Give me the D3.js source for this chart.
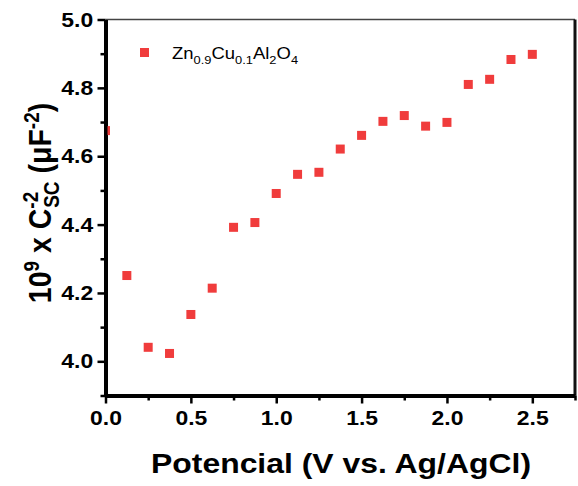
<!DOCTYPE html>
<html>
<head>
<meta charset="utf-8">
<script src="https://cdn.jsdelivr.net/npm/d3@7"></script>
<style>
  html, body { margin: 0; padding: 0; background: #fff; }
  svg { display: block; }
</style>
</head>
<body>
<svg id="chart" width="578" height="486"></svg>
<script>
// Potential (V vs. Ag/AgCl) and Mott–Schottky values (10^9 x Csc^-2)
const potential = [0, 0.125, 0.25, 0.375, 0.5, 0.625, 0.75, 0.875, 1.0, 1.125, 1.25,
                   1.375, 1.5, 1.625, 1.75, 1.875, 2.0, 2.125, 2.25, 2.375, 2.5];
const cscValues = [4.675, 4.251, 4.041, 4.023, 4.137, 4.214, 4.392, 4.406, 4.491, 4.547, 4.553,
                   4.621, 4.661, 4.702, 4.719, 4.688, 4.699, 4.810, 4.825, 4.883, 4.898];
const xTicks = [0, 0.5, 1.0, 1.5, 2.0, 2.5];
const xMinorTicks = [0.25, 0.75, 1.25, 1.75, 2.25, 2.75];
const yTicks = [4.0, 4.2, 4.4, 4.6, 4.8, 5.0];
const yMinorTicks = [3.9, 4.1, 4.3, 4.5, 4.7, 4.9];

const svg = d3.select("#chart");
const plotL = 105.5, plotR = 575, plotT = 19.5, plotB = 395.5;
const x = d3.scaleLinear().domain([0, 2.75]).range([plotL, plotR]);
const y = d3.scaleLinear().domain([3.9, 5.0]).range([plotB, plotT]);
const labelFont = "'Liberation Sans', Arial, sans-serif";
const markerColor = "#f03c3c";
const stretch = 1.12; // glyphs are slightly wide

// frame: top and right edges
svg.append("line").attr("x1", plotL).attr("x2", plotR).attr("y1", plotT).attr("y2", plotT)
  .attr("stroke", "#444").attr("stroke-width", 1.5);
svg.append("line").attr("x1", plotR).attr("x2", plotR).attr("y1", plotT).attr("y2", plotB)
  .attr("stroke", "#111").attr("stroke-width", 3);

// minor ticks
const xMinorG = svg.append("g").attr("transform", `translate(0,${plotB})`);
xMinorG.call(d3.axisBottom(x).tickValues(xMinorTicks).tickSize(5).tickFormat(() => ""));
xMinorG.select(".domain").remove();
xMinorG.selectAll(".tick line").attr("stroke-width", 2.5);
const yMinorG = svg.append("g").attr("transform", `translate(${plotL},0)`);
yMinorG.call(d3.axisLeft(y).tickValues(yMinorTicks).tickSize(5).tickFormat(() => ""));
yMinorG.select(".domain").remove();
yMinorG.selectAll(".tick line").attr("stroke-width", 2.5);

// major axes
function styleAxis(g) {
  g.select(".domain").attr("stroke-width", 4);
  g.selectAll(".tick line").attr("stroke-width", 2.5);
  g.selectAll(".tick text")
    .attr("font-family", labelFont).attr("font-weight", "bold").attr("font-size", 20.5)
    .attr("transform", `scale(${stretch},1)`);
}
const xG = svg.append("g").attr("transform", `translate(0,${plotB})`);
xG.call(d3.axisBottom(x).tickValues(xTicks).tickSize(8).tickSizeOuter(0).tickPadding(7)
  .tickFormat(d3.format(".1f")));
styleAxis(xG);
const yG = svg.append("g").attr("transform", `translate(${plotL},0)`);
yG.call(d3.axisLeft(y).tickValues(yTicks).tickSize(8).tickSizeOuter(0).tickPadding(3)
  .tickFormat(d3.format(".1f")));
styleAxis(yG);

// markers (the x = 0 marker is cut by the left frame)
const left = v => Math.max(plotL + 2, x(v) - 4.5);
svg.append("g")
  .selectAll("rect").data(potential.map((p, i) => [p, cscValues[i]])).join("rect")
  .attr("x", d => left(d[0]))
  .attr("y", d => y(d[1]) - 4.5)
  .attr("width", d => x(d[0]) + 4.5 - left(d[0]))
  .attr("height", 9).attr("fill", markerColor);

// x axis title
svg.append("text").attr("transform", `translate(341,473) scale(${stretch},1)`)
  .attr("text-anchor", "middle")
  .attr("font-family", labelFont).attr("font-weight", "bold").attr("font-size", 28.5)
  .text("Potencial (V vs. Ag/AgCl)");

// y axis title
const yt = svg.append("text").attr("transform", `translate(51,203) scale(${stretch},1) rotate(-90)`)
  .attr("text-anchor", "middle").attr("font-family", labelFont).attr("font-weight", "bold").attr("font-size", 28.5);
yt.append("tspan").text("10");
yt.append("tspan").attr("dy", -11).attr("font-size", 19).text("9");
yt.append("tspan").attr("dy", 11).text(" x C");
yt.append("tspan").attr("dy", -12).attr("font-size", 19).text("-2");
yt.append("tspan").attr("dx", -16).attr("dy", 19).attr("font-size", 19).text("SC");
yt.append("tspan").attr("dy", -7).text(" (\u03BCF");
yt.append("tspan").attr("dy", -11).attr("font-size", 19).text("-2");
yt.append("tspan").attr("dy", 11).text(")");

// legend
svg.append("rect").attr("x", 140).attr("y", 48).attr("width", 9).attr("height", 9).attr("fill", markerColor);
const legendText = svg.append("text").attr("transform", `translate(172,59) scale(${stretch},1)`)
  .attr("font-family", labelFont).attr("font-size", 16.5).attr("fill", "#000");
const formulaParts = [["Zn", 0], ["0.9", 1], ["Cu", 0], ["0.1", 1], ["Al", 0], ["2", 1], ["O", 0], ["4", 1]];
let prevSub = 0;
formulaParts.forEach(([t, sub]) => {
  legendText.append("tspan").attr("dy", (sub - prevSub) * 5).attr("font-size", sub ? 11.5 : 16.5).text(t);
  prevSub = sub;
});
</script>
</body>
</html>
